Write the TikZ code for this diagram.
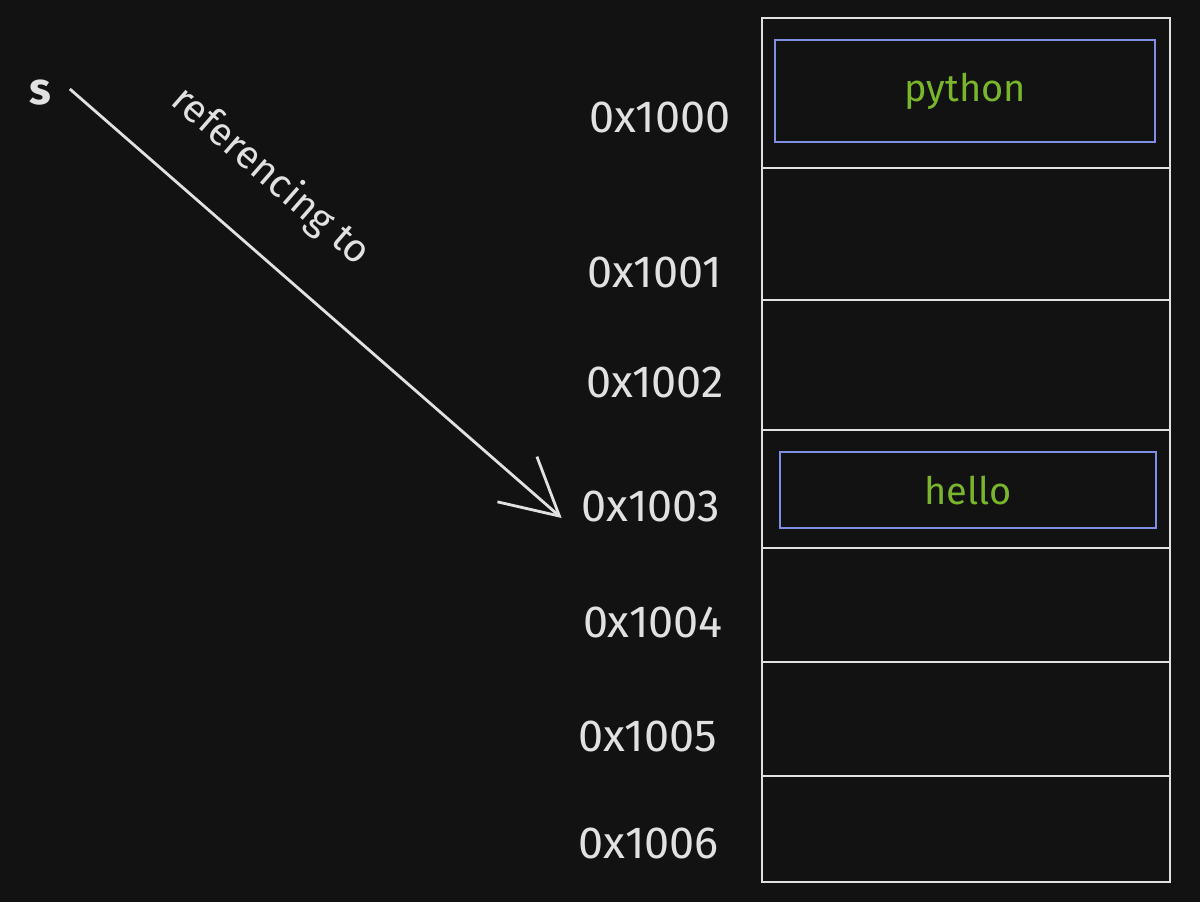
\documentclass[tikz,border=0pt]{standalone}
\usepackage{fontspec}
\setmainfont{Fira Sans}
\usetikzlibrary{arrows.meta,positioning}
\definecolor{canvas}{RGB}{18,18,18}
\definecolor{chalk}{RGB}{225,225,225}
\definecolor{objblue}{RGB}{128,142,228}
\definecolor{strgreen}{RGB}{122,182,44}
\tikzset{
  mem-cell/.style={
    draw=chalk,
    line width=1.4pt,
    minimum width=10.2cm,
    inner sep=0pt
  },
  obj-box/.style={
    draw=objblue,
    line width=2pt,
    text=strgreen,
    font=\fontsize{27}{30}\selectfont,
    inner sep=0pt
  },
  addr-label/.style={
    text=chalk,
    anchor=east,
    inner sep=0pt,
    font=\fontsize{32}{36}\selectfont
  },
  ptr/.style={
    draw=chalk,
    line width=2pt,
    -{Straight Barb[length=14mm,width=15mm,line width=2pt]}
  }
}
\begin{document}
\begin{tikzpicture}[x=0.025cm,y=-0.025cm]
  \useasboundingbox (0,0) rectangle (1200,902);
  \fill[canvas] (0,0) rectangle (1200,902);
  % memory column
  \foreach \top/\bot [count=\i from 0] in {18/168,168/300,300/430,430/548,548/662,662/776,776/882} {
    \node[mem-cell, minimum height={(\bot-\top)*0.025cm}] (cell\i) at (966,{(\top+\bot)/2}) {};
  }
  % addresses
  \foreach \lab/\x/\y [count=\i from 0] in {0x1000/731/117,0x1001/722/272,0x1002/724/382,0x1003/720/506,0x1004/723/622,0x1005/717/736,0x1006/719/843} {
    \node[addr-label] (addr\i) at (\x,\y) {\lab};
  }
  % stored objects
  \node[obj-box, minimum width=9.5cm, minimum height=2.55cm] (objpy) at (965,91) {python};
  \node[obj-box, minimum width=9.4cm, minimum height=1.9cm] (objhi) at (968,490) {hello};
  % the name and its reference
  \node[text=chalk, font=\fontsize{32}{36}\selectfont\bfseries] (name) at (40,93) {s};
  \draw[ptr] ([xshift=0.35cm,yshift=0.1cm]name.east) -- ([yshift=-0.3cm,xshift=-0.5cm]addr3.west)
    node[pos=0.32, sloped, above=1.0cm, text=chalk, font=\fontsize{28}{32}\selectfont] {referencing to};
\end{tikzpicture}
\end{document}
